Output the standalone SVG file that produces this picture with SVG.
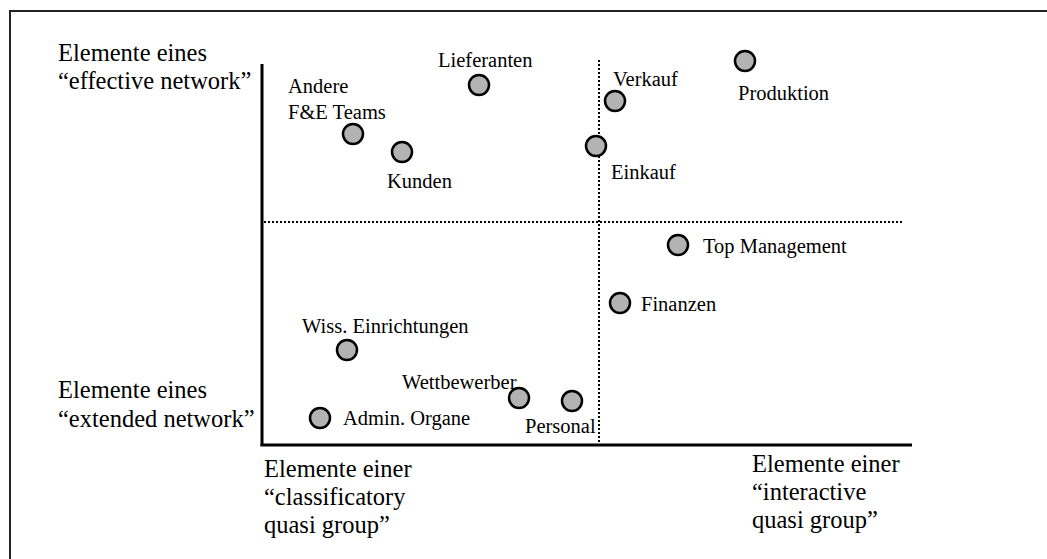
<svg xmlns="http://www.w3.org/2000/svg" width="1047" height="559" viewBox="0 0 1047 559">
  <style>
    text { font-family: "Liberation Serif", "Times New Roman", serif; fill: #000; }
    .axis-label { font-size: 24.5px; }
    .node-label { font-size: 20.5px; }
    .dot { fill: #b3b3b3; stroke: #000; stroke-width: 2.5; }
    .frame { fill: none; stroke: #222; stroke-width: 2; }
    .axis { stroke: #000; stroke-width: 3; fill: none; }
    .divider { stroke: #000; stroke-width: 2; stroke-dasharray: 2 2; fill: none; }
  </style>

  <rect width="1047" height="559" fill="#fff"/>

  <!-- outer frame (open to the right and bottom) -->
  <path class="frame" d="M10,560 V11 H1048"/>

  <!-- axes and quadrant dividers -->
  <g id="connectors">
    <line class="axis" x1="262" y1="64" x2="262" y2="446"/>
    <line class="axis" x1="260.5" y1="445" x2="912" y2="445"/>
    <line class="divider" x1="264" y1="222" x2="904" y2="222"/>
    <line class="divider" x1="599" y1="60" x2="599" y2="444"/>
  </g>

  <!-- axis captions -->
  <g id="axis-labels">
    <text class="axis-label" x="58" y="61">Elemente eines</text>
    <text class="axis-label" x="58" y="89">“effective network”</text>
    <text class="axis-label" x="58" y="398">Elemente eines</text>
    <text class="axis-label" x="58" y="427">“extended network”</text>
    <text class="axis-label" x="264" y="477">Elemente einer</text>
    <text class="axis-label" x="264" y="505">“classificatory</text>
    <text class="axis-label" x="264" y="533">quasi group”</text>
    <text class="axis-label" x="752" y="472">Elemente einer</text>
    <text class="axis-label" x="752" y="500">“interactive</text>
    <text class="axis-label" x="752" y="528">quasi group”</text>
  </g>

  <!-- network elements -->
  <g id="andere-fe-teams">
    <circle class="dot" cx="353" cy="134" r="10"/>
    <text class="node-label" x="288" y="93">Andere</text>
    <text class="node-label" x="288" y="119">F&amp;E Teams</text>
  </g>
  <g id="lieferanten">
    <circle class="dot" cx="479" cy="85" r="10"/>
    <text class="node-label" x="438" y="67">Lieferanten</text>
  </g>
  <g id="kunden">
    <circle class="dot" cx="402" cy="152" r="10"/>
    <text class="node-label" x="387" y="188">Kunden</text>
  </g>
  <g id="verkauf">
    <circle class="dot" cx="615" cy="101" r="10"/>
    <text class="node-label" x="613" y="86">Verkauf</text>
  </g>
  <g id="einkauf">
    <circle class="dot" cx="596" cy="146" r="10"/>
    <text class="node-label" x="611" y="179">Einkauf</text>
  </g>
  <g id="produktion">
    <circle class="dot" cx="745" cy="61" r="10"/>
    <text class="node-label" x="738" y="100">Produktion</text>
  </g>
  <g id="top-management">
    <circle class="dot" cx="678" cy="245" r="10"/>
    <text class="node-label" x="703" y="253">Top Management</text>
  </g>
  <g id="finanzen">
    <circle class="dot" cx="620" cy="303" r="10"/>
    <text class="node-label" x="641" y="311">Finanzen</text>
  </g>
  <g id="wiss-einrichtungen">
    <circle class="dot" cx="347" cy="350" r="10"/>
    <text class="node-label" x="302" y="333">Wiss. Einrichtungen</text>
  </g>
  <g id="admin-organe">
    <circle class="dot" cx="320" cy="418" r="10"/>
    <text class="node-label" x="343" y="425">Admin. Organe</text>
  </g>
  <g id="wettbewerber">
    <circle class="dot" cx="519" cy="398" r="10"/>
    <text class="node-label" x="402" y="389">Wettbewerber</text>
  </g>
  <g id="personal">
    <circle class="dot" cx="572" cy="401" r="10"/>
    <text class="node-label" x="525" y="433">Personal</text>
  </g>
</svg>
